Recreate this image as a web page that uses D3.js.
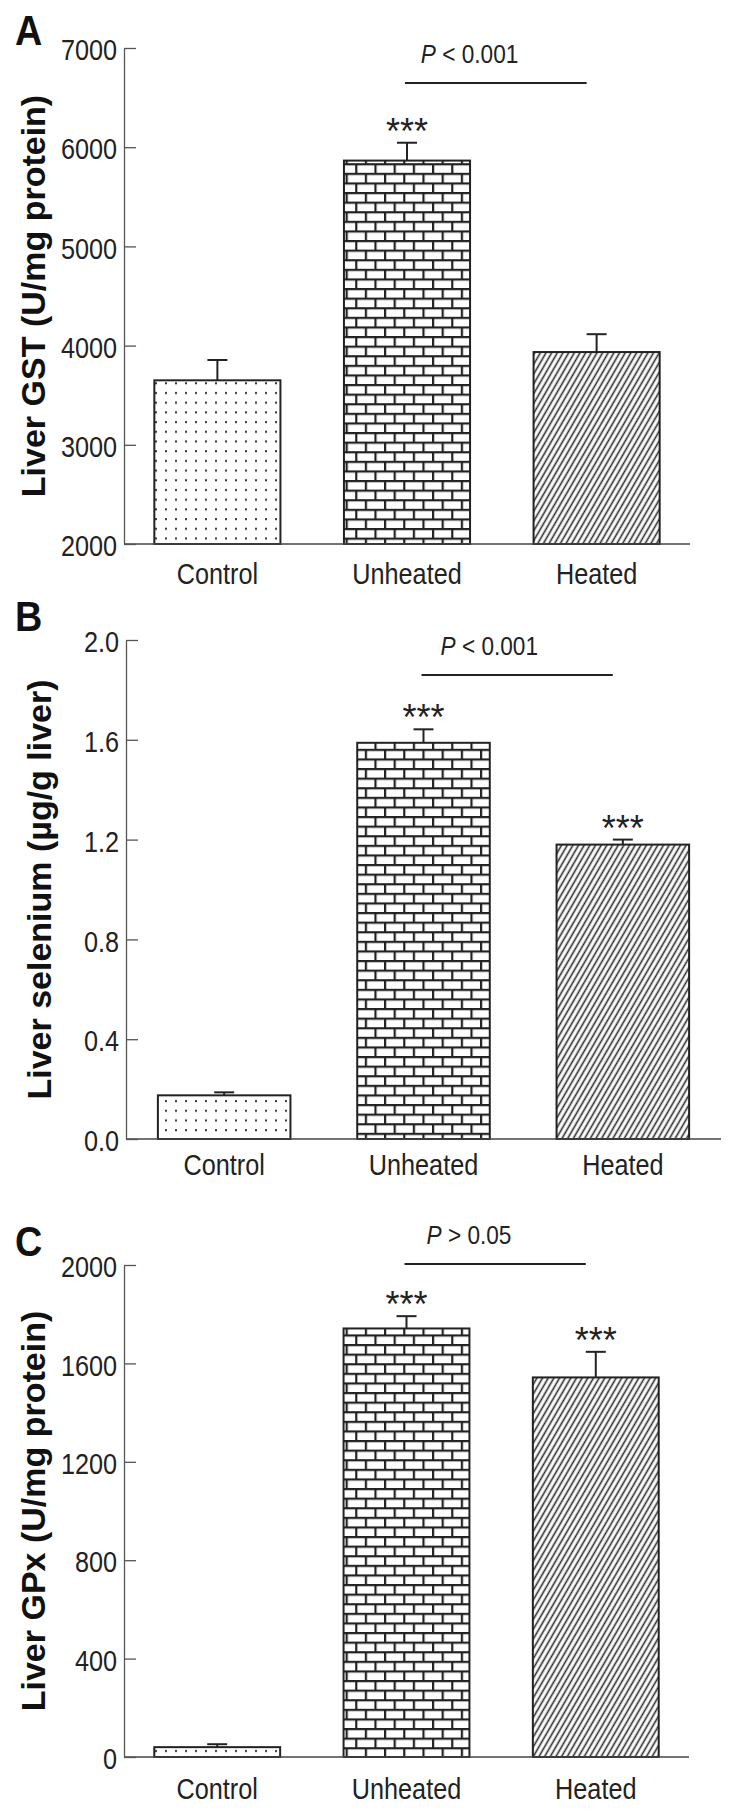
<!DOCTYPE html>
<html><head><meta charset="utf-8">
<script src="https://cdn.jsdelivr.net/npm/d3@7"></script>
<style>body{margin:0;background:#fff}</style>
</head><body>
<svg id="chart" width="738" height="1815"></svg>
<script>
// ---- data ----
const categories = ["Control", "Unheated", "Heated"];
const gstMean = [3650, 5865, 3935];
const gstErr  = [205, 180, 180];
const seMean  = [0.175, 1.588, 1.18];
const seErr   = [0.012, 0.054, 0.02];
const gpxMean = [40, 1742, 1543];
const gpxErr  = [12, 50, 104];
const gstTicks = [2000, 3000, 4000, 5000, 6000, 7000];
const seTicks  = [0, 0.4, 0.8, 1.2, 1.6, 2.0];
const gpxTicks = [0, 400, 800, 1200, 1600, 2000];
const gstSig = ["", "***", ""];
const seSig  = ["", "***", "***"];
const gpxSig = ["", "***", "***"];
const panelLetters = ["A", "B", "C"];
const yTitles = ["Liver GST (U/mg protein)", "Liver selenium (\u00B5g/g liver)", "Liver GPx (U/mg protein)"];
const pTexts = ["< 0.001", "< 0.001", "> 0.05"];

// ---- layout ----
const panels = [
  {mean: gstMean, err: gstErr, ticks: gstTicks, sig: gstSig, domain: [2000, 7000], fmt: d3.format("d"),
   left: 124, right: 690, top: 48, bottom: 544, titleX: 45, letterY: 45, labelGap: 40, bracket: 35},
  {mean: seMean, err: seErr, ticks: seTicks, sig: seSig, domain: [0, 2], fmt: d3.format(".1f"),
   left: 126, right: 721, top: 640, bottom: 1139, titleX: 51, letterY: 631, labelGap: 36, bracket: 35},
  {mean: gpxMean, err: gpxErr, ticks: gpxTicks, sig: gpxSig, domain: [0, 2000], fmt: d3.format("d"),
   left: 124, right: 689, top: 1265, bottom: 1757, titleX: 45, letterY: 1256, labelGap: 42, bracket: -1}
];
const patternIds = ["dots", "bricks", "hatch"];
const FONT = "'Liberation Sans', Arial, Helvetica, sans-serif";
const INK = "#222";
const NARROW = 0.87;     // condensed look of the original labels
const LABEL_SIZE = 29;

const svg = d3.select("#chart");
const defs = svg.append("defs");

// dots
const pd = defs.append("pattern").attr("id", "dots").attr("patternUnits", "userSpaceOnUse")
  .attr("width", 10).attr("height", 9.7);
pd.append("rect").attr("width", 10).attr("height", 9.7).attr("fill", "#fff");
pd.append("rect").attr("x", 5).attr("y", 4).attr("width", 2).attr("height", 2).attr("fill", "#333");

// bricks
const bw = 19.2, bh = 9.6, bs = 2.2;
const pb = defs.append("pattern").attr("id", "bricks").attr("patternUnits", "userSpaceOnUse")
  .attr("width", bw).attr("height", bh * 2);
pb.append("rect").attr("width", bw).attr("height", bh * 2).attr("fill", "#fff");
pb.append("rect").attr("x", 0).attr("y", 0).attr("width", bw).attr("height", bs).attr("fill", INK);
pb.append("rect").attr("x", 0).attr("y", bh).attr("width", bw).attr("height", bs).attr("fill", INK);
pb.append("rect").attr("x", 0).attr("y", 0).attr("width", bs).attr("height", bh).attr("fill", INK);
pb.append("rect").attr("x", bw / 2).attr("y", bh).attr("width", bs).attr("height", bh).attr("fill", INK);

// hatch
const ph = defs.append("pattern").attr("id", "hatch").attr("patternUnits", "userSpaceOnUse")
  .attr("width", 4.9).attr("height", 10).attr("patternTransform", "rotate(30)");
ph.append("rect").attr("width", 4.9).attr("height", 10).attr("fill", "#fff");
ph.append("line").attr("x1", 2.45).attr("x2", 2.45).attr("y1", 0).attr("y2", 10)
  .attr("stroke", "#2a2a2a").attr("stroke-width", 1.6);

panels.forEach((p, i) => {
  const g = svg.append("g");
  const x = d3.scaleBand().domain(categories).range([p.left, p.right])
    .paddingInner(0.335).paddingOuter(0.16);
  const y = d3.scaleLinear().domain(p.domain).range([p.bottom, p.top]);
  const cx = c => x(c) + x.bandwidth() / 2;

  // bars
  g.selectAll("rect.bar").data(categories).join("rect")
    .attr("class", "bar")
    .attr("x", c => x(c))
    .attr("width", x.bandwidth())
    .attr("y", (c, j) => y(p.mean[j]))
    .attr("height", (c, j) => y(p.domain[0]) - y(p.mean[j]))
    .attr("fill", (c, j) => `url(#${patternIds[j]})`)
    .attr("stroke", INK).attr("stroke-width", 2);

  // error bars (upper only)
  categories.forEach((c, j) => {
    const yt = y(p.mean[j] + p.err[j]);
    g.append("line").attr("x1", cx(c)).attr("x2", cx(c))
      .attr("y1", y(p.mean[j])).attr("y2", yt)
      .attr("stroke", INK).attr("stroke-width", 2);
    g.append("line").attr("x1", cx(c) - 10).attr("x2", cx(c) + 10)
      .attr("y1", yt).attr("y2", yt)
      .attr("stroke", INK).attr("stroke-width", 2);
    if (p.sig[j]) {
      g.append("text").attr("x", cx(c)).attr("y", yt + 1)
        .attr("text-anchor", "middle").attr("font-family", FONT)
        .attr("font-size", 36).attr("fill", INK).text(p.sig[j]);
    }
  });

  // baseline
  g.append("line").attr("x1", p.left).attr("x2", p.right)
    .attr("y1", y(p.domain[0])).attr("y2", y(p.domain[0]))
    .attr("stroke", "#444").attr("stroke-width", 1.5);

  // y axis
  const ax = g.append("g").attr("transform", `translate(${p.left},0)`)
    .call(d3.axisLeft(y).tickValues(p.ticks).tickFormat(p.fmt)
      .tickSize(-12).tickSizeOuter(0).tickPadding(7));
  ax.attr("font-family", FONT).attr("font-size", LABEL_SIZE);
  ax.select(".domain").attr("stroke", "#555").attr("stroke-width", 1.3);
  ax.selectAll(".tick line").attr("stroke", "#555").attr("stroke-width", 1.3);
  ax.selectAll(".tick text").attr("fill", INK).attr("dy", "0.4em")
    .attr("x", -7 / NARROW).attr("transform", `scale(${NARROW},1)`);

  // category labels
  g.selectAll("text.cat").data(categories).join("text")
    .attr("class", "cat")
    .attr("transform", c => `translate(${cx(c)},${p.bottom + p.labelGap}) scale(${NARROW},1)`)
    .attr("text-anchor", "middle").attr("font-family", FONT)
    .attr("font-size", LABEL_SIZE).attr("fill", INK).text(c => c);

  // y title
  g.append("text")
    .attr("transform", `translate(${p.titleX},${(p.top + p.bottom) / 2}) rotate(-90)`)
    .attr("text-anchor", "middle").attr("font-family", FONT)
    .attr("font-weight", "bold").attr("font-size", 34).attr("fill", "#111")
    .text(yTitles[i]);

  // panel letter
  g.append("text").attr("transform", `translate(15,${p.letterY}) scale(0.9,1)`)
    .attr("font-family", FONT).attr("font-weight", "bold")
    .attr("font-size", 42).attr("fill", "#111").text(panelLetters[i]);

  // P bracket
  const ly = p.top + p.bracket;
  const x1 = cx(categories[1]) - 2, x2 = cx(categories[2]) - 10;
  g.append("line").attr("x1", x1).attr("x2", x2).attr("y1", ly).attr("y2", ly)
    .attr("stroke", INK).attr("stroke-width", 2);
  const pt = g.append("text")
    .attr("transform", `translate(${cx(categories[1]) + 0.33 * x.step()},${ly - 20}) scale(${NARROW},1)`)
    .attr("text-anchor", "middle").attr("font-family", FONT)
    .attr("font-size", 26).attr("fill", INK);
  pt.append("tspan").attr("font-style", "italic").text("P");
  pt.append("tspan").text(" " + pTexts[i]);
});
</script>
</body></html>
